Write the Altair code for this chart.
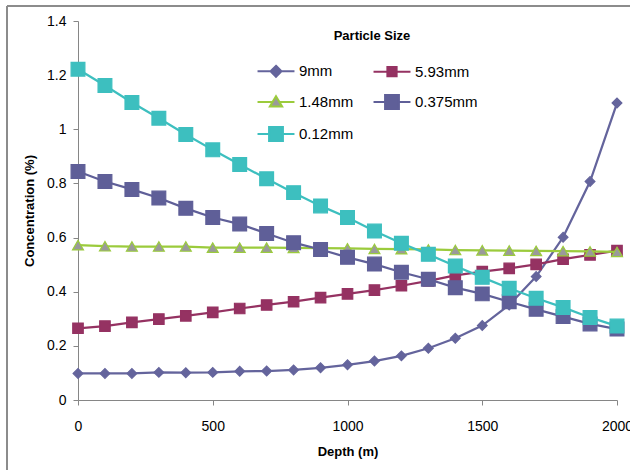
import altair as alt
import pandas as pd

depth = [0, 100, 200, 300, 400, 500, 600, 700, 800, 900, 1000,
         1100, 1200, 1300, 1400, 1500, 1600, 1700, 1800, 1900, 2000]

c_9mm = [0.098, 0.098, 0.098, 0.102, 0.101, 0.102, 0.106, 0.107, 0.111, 0.119, 0.130,
         0.144, 0.163, 0.191, 0.228, 0.275, 0.351, 0.456, 0.601, 0.807, 1.097]
c_593mm = [0.265, 0.273, 0.287, 0.299, 0.311, 0.324, 0.338, 0.351, 0.363, 0.378, 0.392,
           0.406, 0.422, 0.440, 0.460, 0.474, 0.486, 0.501, 0.520, 0.536, 0.552]
c_148mm = [0.572, 0.568, 0.567, 0.567, 0.567, 0.563, 0.563, 0.563, 0.562, 0.561, 0.560,
           0.558, 0.557, 0.556, 0.554, 0.553, 0.552, 0.551, 0.550, 0.549, 0.547]
c_0375mm = [0.844, 0.807, 0.778, 0.746, 0.708, 0.674, 0.650, 0.615, 0.581, 0.556, 0.527,
            0.502, 0.472, 0.446, 0.415, 0.392, 0.363, 0.335, 0.308, 0.281, 0.262]
c_012mm = [1.222, 1.162, 1.099, 1.041, 0.981, 0.924, 0.870, 0.817, 0.766, 0.717, 0.674,
           0.624, 0.579, 0.538, 0.495, 0.453, 0.413, 0.376, 0.342, 0.305, 0.273]

series_names = ["9mm", "5.93mm", "1.48mm", "0.375mm", "0.12mm"]
series_values = [c_9mm, c_593mm, c_148mm, c_0375mm, c_012mm]

line_colors = ["#64649C", "#953262", "#9BCB3C", "#5F5F98", "#3DBFBF"]
fill_colors = ["#64649C", "#953262", "#9A9A9A", "#5F5F98", "#3DBFBF"]
shapes = ["diamond", "square", "triangle-up", "square", "square"]
sizes = [95, 110, 120, 190, 190]

# legend symbols: line + marker (custom paths)
legend_paths = [
    "M-2.4,0H-0.71M0.71,0H2.4M0,-0.71L0.71,0L0,0.71L-0.71,0Z",
    "M-2.4,0H-0.6M0.6,0H2.4M-0.6,-0.6H0.6V0.6H-0.6Z",
    "M-2.4,0H-0.45M0.45,0H2.4M0,-0.75L0.8,0.6H-0.8Z",
    "M-2.4,0H-0.9M0.9,0H2.4M-0.9,-0.9H0.9V0.9H-0.9Z",
    "M-2.4,0H-0.9M0.9,0H2.4M-0.9,-0.9H0.9V0.9H-0.9Z",
]

rows = []
for name, vals in zip(series_names, series_values):
    for d, v in zip(depth, vals):
        rows.append({"depth": d, "conc": v, "series": name})
df = pd.DataFrame(rows)

FONT = "Liberation Sans"
AX = "#868686"

x_enc = alt.X("depth:Q", scale=alt.Scale(domain=[0, 2000], nice=False),
              axis=alt.Axis(values=[0, 500, 1000, 1500, 2000], title="Depth (m)",
                            format="d", grid=False, tickSize=5, labelPadding=14,
                            titlePadding=12, domainColor=AX, tickColor=AX,
                            labelFont=FONT, labelFontSize=14, labelColor="#000",
                            titleFont=FONT, titleFontSize=13, titleFontWeight="bold",
                            titleColor="#000", labelFlush=False, labelOverlap=False))
y_enc = alt.Y("conc:Q", scale=alt.Scale(domain=[0, 1.4], nice=False),
              axis=alt.Axis(values=[0, 0.2, 0.4, 0.6, 0.8, 1.0, 1.2, 1.4],
                            title="Concentration (%)", format="~g", grid=False,
                            tickSize=5, labelPadding=7, titlePadding=10,
                            domainColor=AX, tickColor=AX,
                            labelFont=FONT, labelFontSize=14, labelColor="#000",
                            titleFont=FONT, titleFontSize=13, titleFontWeight="bold",
                            titleColor="#000", labelOverlap=False))

base = alt.Chart(df)

layers = []
for i, name in enumerate(series_names):
    sub = base.transform_filter(alt.datum.series == name)
    layers.append(sub.mark_line(color=line_colors[i], strokeWidth=2.25).encode(x=x_enc, y=y_enc))
    layers.append(sub.mark_point(shape=shapes[i], filled=True, fill=fill_colors[i],
                                 stroke=line_colors[i], strokeWidth=1.2, size=sizes[i],
                                 opacity=1).encode(x=x_enc, y=y_enc))

leg = alt.Legend(title="Particle Size", orient="none", legendX=189, legendY=9,
                 columns=2, direction="horizontal", padding=0, titleFont=FONT,
                 titleFontSize=13, titleFontWeight="bold", titleColor="#000",
                 titleAnchor="middle", titlePadding=19, labelFont=FONT,
                 labelFontSize=15, labelColor="#000",
                 symbolSize=237, symbolStrokeWidth=2, labelOffset=14,
                 columnPadding=15, rowPadding=10, symbolOpacity=1)

legend_layer = base.transform_filter("false").mark_point(filled=True, opacity=1).encode(
    x=x_enc, y=y_enc,
    shape=alt.Shape("series:N", scale=alt.Scale(domain=series_names, range=legend_paths), legend=leg),
    fill=alt.Fill("series:N", scale=alt.Scale(domain=series_names, range=fill_colors), legend=leg),
    stroke=alt.Stroke("series:N", scale=alt.Scale(domain=series_names, range=line_colors), legend=leg),
)

border_top = alt.Chart(df).mark_rule(color="#8C8C8C", strokeWidth=1.5).encode(
    x=alt.value(-71), x2=alt.value(560), y=alt.value(-15))
border_left = alt.Chart(df).mark_rule(color="#8C8C8C", strokeWidth=1.5).encode(
    x=alt.value(-71), y=alt.value(-15), y2=alt.value(460))

chart = alt.layer(border_top, border_left, *layers, legend_layer).properties(
    width=539, height=379,
    autosize=alt.AutoSizeParams(type="none"),
    padding={"left": 78, "top": 21, "right": 13, "bottom": 70},
    background="white",
).configure_view(stroke=None)

chart.save("out.html", embed_options={"renderer": "svg", "actions": False})
